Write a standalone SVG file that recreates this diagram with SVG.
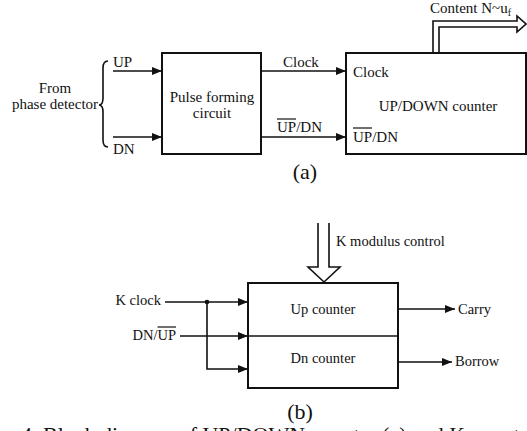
<svg xmlns="http://www.w3.org/2000/svg" width="527" height="431" viewBox="0 0 527 431">
<defs>
<style>
text{font-family:"Liberation Serif","Times New Roman",serif;fill:#111}
.t{font-size:15px}
.s{font-size:14.5px}
.big{font-size:22px}
.box{fill:#fff;stroke:#111;stroke-width:2}
.ln{fill:none;stroke:#111;stroke-width:1.6}
.ol{stroke:#111;stroke-width:1.2}
</style>
<marker id="arr" viewBox="0 0 10 8" refX="10" refY="4" markerWidth="10" markerHeight="8" markerUnits="userSpaceOnUse" orient="auto">
<path d="M0,0 L10,4 L0,8 z" fill="#111"/>
</marker>
</defs>
<rect width="527" height="431" fill="#fff"/>

<g id="source">
<text class="t" x="55" y="93" text-anchor="middle">From</text>
<text class="t" x="55" y="109" text-anchor="middle">phase detector</text>
<path class="ln" d="M108,61 Q103,61 103,68 L103,98 Q103,105 99,105 Q103,105 103,112 L103,140 Q103,147 108,147" stroke-width="1.3"/>
<text class="t" x="113" y="67">UP</text>
<text class="t" x="113" y="154">DN</text>
</g>

<g id="pulse">
<rect class="box" x="162" y="53" width="99" height="101"/>
<text class="t" x="212" y="102" text-anchor="middle">Pulse forming</text>
<text class="t" x="212" y="118" text-anchor="middle">circuit</text>
</g>

<g id="counter">
<rect class="box" x="346" y="53" width="180" height="101"/>
<text class="t" x="353" y="76.5">Clock</text>
<text class="t" x="438" y="111" text-anchor="middle">UP/DOWN counter</text>
<text class="t" x="353" y="141.5">UP/DN</text>
<line class="ol" x1="353" y1="128" x2="372" y2="128"/>
<text class="t" x="430" y="13">Content N~u<tspan font-size="10" dy="3">f</tspan></text>
</g>

<g id="kcounter">
<rect class="box" x="248" y="283" width="150" height="105"/>
<line class="ln" x1="248" y1="336" x2="398" y2="336"/>
<text class="s" x="323" y="314" text-anchor="middle">Up counter</text>
<text class="s" x="323" y="363" text-anchor="middle">Dn counter</text>
</g>

<g id="inputs-b">
<text class="s" x="161" y="305" text-anchor="end">K clock</text>
<text class="s" x="176" y="340" text-anchor="end">DN/UP</text>
<line class="ol" x1="157.5" y1="327" x2="176" y2="327"/>
<text class="s" x="336" y="246">K modulus control</text>
<text class="s" x="458" y="314">Carry</text>
<text class="s" x="455" y="366">Borrow</text>
</g>

<g id="connectors">
<line class="ln" x1="113" y1="71" x2="162" y2="71" marker-end="url(#arr)"/>
<line class="ln" x1="113" y1="137" x2="162" y2="137" marker-end="url(#arr)"/>
<line class="ln" x1="261" y1="71" x2="346" y2="71" marker-end="url(#arr)"/>
<line class="ln" x1="261" y1="137" x2="346" y2="137" marker-end="url(#arr)"/>
<text class="t" x="283" y="67">Clock</text>
<text class="t" x="277" y="132">UP/DN</text>
<line class="ol" x1="277" y1="119" x2="296" y2="119"/>
<path class="ln" d="M433,53 L433,21 L517,21 L517,16 L526,24 L517,32 L517,27 L439,27 L439,53" fill="#fff"/>

<path class="ln" d="M318,223 L318,267 L308,267 L324,282 L340,267 L329,267 L329,223" fill="#fff"/>
<line class="ln" x1="165" y1="302" x2="248" y2="302" marker-end="url(#arr)"/>
<line class="ln" x1="180" y1="336" x2="248" y2="336" marker-end="url(#arr)"/>
<path class="ln" d="M207,302 L207,369 L248,369" marker-end="url(#arr)"/>
<circle cx="207" cy="302" r="2.3" fill="#111"/>
<line class="ln" x1="398" y1="309" x2="455" y2="309" marker-end="url(#arr)"/>
<line class="ln" x1="398" y1="362" x2="452" y2="362" marker-end="url(#arr)"/>
</g>

<g id="captions">
<text class="big" x="305" y="179" text-anchor="middle">(a)</text>
<text class="big" x="300" y="419" text-anchor="middle">(b)</text>
<text class="big" x="21" y="442">4. Block diagram of UP/DOWN counter (a) and K counter (b)</text>
</g>
</svg>
